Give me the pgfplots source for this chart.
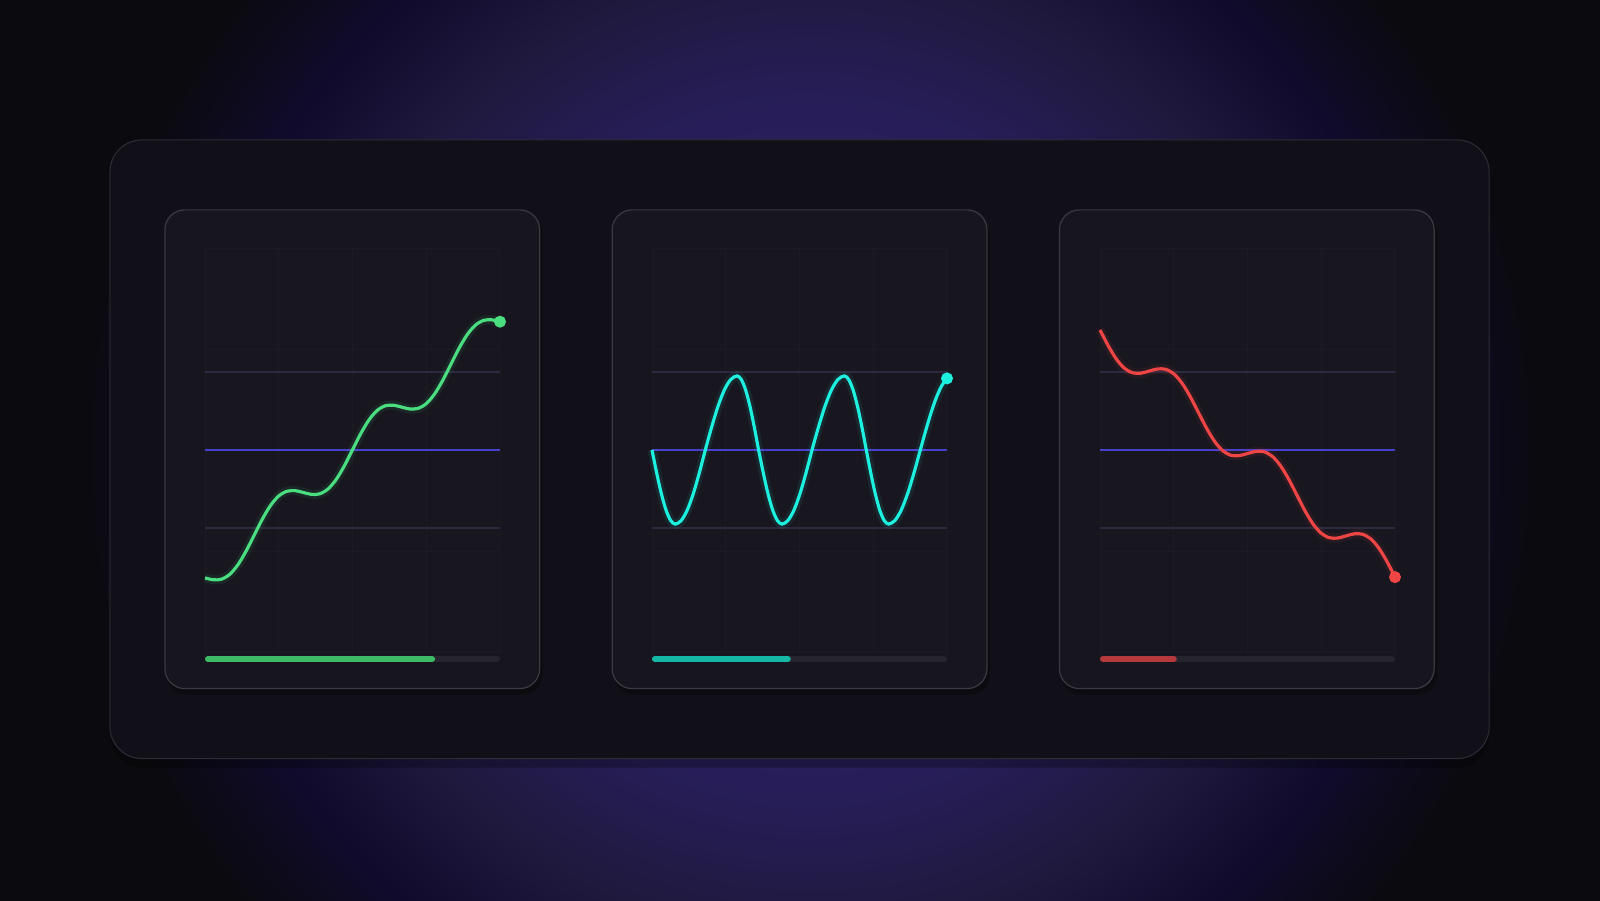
\documentclass[border=0pt]{standalone}
\usepackage{pgfplots}
\usepackage{pgfplotstable}
\pgfplotsset{compat=1.18}

\definecolor{bgdark}{HTML}{0B0A0E}
\definecolor{glowA}{HTML}{2A2062}
\definecolor{glowB}{HTML}{271E59}
\definecolor{glowC}{HTML}{1F193E}
\definecolor{glowD}{HTML}{100B2C}
\definecolor{cardbg}{HTML}{111018}
\definecolor{cardline}{HTML}{2C2B36}
\definecolor{panelbg}{HTML}{17161E}
\definecolor{panelline}{HTML}{3A3944}
\definecolor{plotbg}{HTML}{18171F}
\definecolor{gridfaint}{HTML}{1C1B24}
\definecolor{refline}{HTML}{2C2A40}
\definecolor{midline}{HTML}{4840CC}
\definecolor{track}{HTML}{26252E}
\definecolor{greenL}{HTML}{4ADE80}
\definecolor{greenB}{HTML}{3CBA66}
\definecolor{cyanL}{HTML}{1EF0E0}
\definecolor{cyanB}{HTML}{14B8A6}
\definecolor{redL}{HTML}{F04545}
\definecolor{redB}{HTML}{B5393D}

\pgfdeclareradialshading{glowbg}{\pgfpoint{0bp}{0bp}}{%
  color(0bp)=(glowA); color(11bp)=(glowB); color(15.5bp)=(glowC);
  color(19.5bp)=(glowD); color(23.5bp)=(bgdark); color(50bp)=(bgdark)}

% rising series, x = step 0..36
\pgfplotstableread{
x y
0 -1.640
1 -1.664
2 -1.657
3 -1.596
4 -1.474
5 -1.299
6 -1.093
7 -0.886
8 -0.711
9 -0.589
10 -0.529
11 -0.521
12 -0.545
13 -0.569
14 -0.562
15 -0.501
16 -0.379
17 -0.204
18 0.003
19 0.209
20 0.384
21 0.506
22 0.567
23 0.574
24 0.550
25 0.526
26 0.534
27 0.594
28 0.716
29 0.891
30 1.098
31 1.304
32 1.479
33 1.601
34 1.662
35 1.669
36 1.645
}\greendata

% oscillating series, x = 0..295
\pgfplotstableread{
x y
0 0
4.66 -0.294
9.32 -0.559
13.98 -0.769
18.64 -0.903
23.3 -0.950
29.3 -0.903
35.3 -0.769
41.3 -0.559
47.3 -0.294
53.3 0
59.64 0.294
65.98 0.559
72.32 0.769
78.66 0.903
85 0.950
89.32 0.903
93.64 0.769
97.96 0.559
102.28 0.294
106.6 0
111.28 -0.294
115.96 -0.559
120.64 -0.769
125.32 -0.903
130 -0.950
136 -0.903
142 -0.769
148 -0.559
154 -0.294
160 0
166.46 0.294
172.92 0.559
179.38 0.769
185.84 0.903
192.3 0.950
196.7 0.903
201.1 0.769
205.5 0.559
209.9 0.294
214.3 0
218.76 -0.294
223.22 -0.559
227.68 -0.769
232.14 -0.903
236.6 -0.950
242.94 -0.903
249.28 -0.769
255.62 -0.559
261.96 -0.294
268.3 0
273.64 0.246
278.98 0.475
284.32 0.672
289.66 0.823
295 0.918
}\cyandata

% falling series, x = step 0..36
\pgfplotstableread{
x y
0 1.540
1 1.337
2 1.165
3 1.046
4 0.989
5 0.985
6 1.012
7 1.039
8 1.035
9 0.977
10 0.858
11 0.686
12 0.483
13 0.280
14 0.108
15 -0.011
16 -0.068
17 -0.072
18 -0.045
19 -0.018
20 -0.022
21 -0.079
22 -0.198
23 -0.370
24 -0.573
25 -0.777
26 -0.949
27 -1.068
28 -1.125
29 -1.129
30 -1.102
31 -1.075
32 -1.079
33 -1.136
34 -1.255
35 -1.427
36 -1.630
}\reddata

\pgfplotsset{
  panel/.style={
    anchor=south west, scale only axis,
    width=2.95cm, height=4.04cm,
    ymin=-2.59, ymax=2.59,
    axis background/.style={fill=plotbg},
    axis line style={draw=gridfaint, line width=0.25pt},
    ytick={-1.295,0,1.295}, yticklabels={}, xticklabels={},
    tick style={draw=none},
    grid=major, major grid style={draw=gridfaint, line width=0.25pt},
    extra y ticks={-1,1}, extra y tick labels={},
    extra y tick style={grid=major, major grid style={draw=refline, line width=0.45pt}},
    clip=false,
  },
  halo/.style={smooth, line width=2.6pt, opacity=0.08},
  curve/.style={smooth, line width=0.9pt},
  bar/.style={line width=1.75pt, line cap=round},
}

\begin{document}
\begin{tikzpicture}
\useasboundingbox (0,0) rectangle (16,9);
\fill[bgdark] (-0.2,-0.2) rectangle (16.2,9.2);
\begin{scope}
  \clip (-0.2,-0.2) rectangle (16.2,9.2);
  \shade[shading=glowbg] (8.1,4.5) ellipse (7.8 and 7.8);
\end{scope}

% card and panels, coordinates in pixels from the top left
\begin{scope}[x=0.01cm, y=-0.01cm, yshift=9cm]
  \fill[black, opacity=0.25, rounded corners=0.32cm] (110,146) rectangle (1490,768);
  \filldraw[fill=cardbg, draw=cardline, line width=0.3pt, rounded corners=0.32cm]
    (110,140) rectangle (1490,759);
  \foreach \px in {165,612.5,1060}{
    \fill[black, opacity=0.3, rounded corners=0.2cm] (\px+2,215) rectangle (\px+378,695);
    \filldraw[fill=panelbg, draw=panelline, line width=0.35pt, rounded corners=0.2cm]
      (\px,210) rectangle (\px+375,689);
  }
\end{scope}

% rising
\begin{axis}[panel, at={(2.05cm,2.48cm)}, xmin=0, xmax=36, xtick={0,9,18,27,36}]
  \addplot[midline, line width=0.55pt] coordinates {(0,0) (36,0)};
  \addplot[greenL, halo] table {\greendata};
  \addplot[greenL, curve] table {\greendata};
  \addplot[only marks, mark=*, mark size=1.5pt, greenL] coordinates {(36,1.645)};
  \addplot[track, bar] coordinates {(0.37,-2.68) (35.63,-2.68)};
  \addplot[greenB, bar] coordinates {(0.37,-2.68) (27.7,-2.68)};
\end{axis}

% oscillating
\begin{axis}[panel, at={(6.52cm,2.48cm)}, xmin=0, xmax=295, xtick={0,73.75,147.5,221.25,295}]
  \addplot[midline, line width=0.55pt] coordinates {(0,0) (295,0)};
  \addplot[cyanL, halo] table {\cyandata};
  \addplot[cyanL, curve] table {\cyandata};
  \addplot[only marks, mark=*, mark size=1.5pt, cyanL] coordinates {(295,0.918)};
  \addplot[track, bar] coordinates {(3,-2.68) (292,-2.68)};
  \addplot[cyanB, bar] coordinates {(3,-2.68) (135.7,-2.68)};
\end{axis}

% falling
\begin{axis}[panel, at={(11.00cm,2.48cm)}, xmin=0, xmax=36, xtick={0,9,18,27,36}]
  \addplot[midline, line width=0.55pt] coordinates {(0,0) (36,0)};
  \addplot[redL, halo] table {\reddata};
  \addplot[redL, curve] table {\reddata};
  \addplot[only marks, mark=*, mark size=1.5pt, redL] coordinates {(36,-1.630)};
  \addplot[track, bar] coordinates {(0.37,-2.68) (35.63,-2.68)};
  \addplot[redB, bar] coordinates {(0.37,-2.68) (8.99,-2.68)};
\end{axis}
\end{tikzpicture}
\end{document}
